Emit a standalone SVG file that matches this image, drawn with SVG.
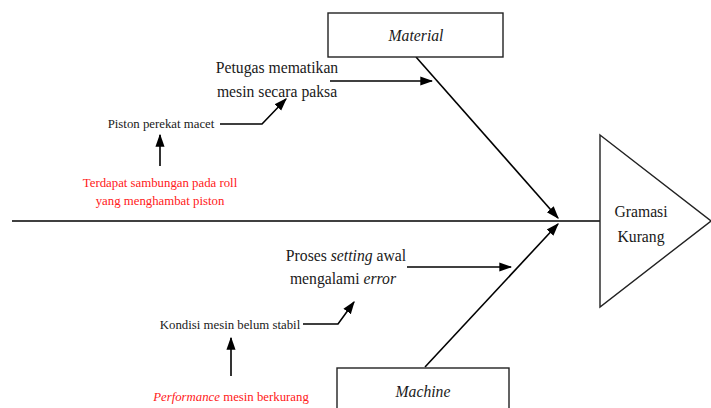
<svg xmlns="http://www.w3.org/2000/svg" width="711" height="408" viewBox="0 0 711 408">
<style>
.t{font-family:"Liberation Serif","Times New Roman",serif;fill:#1a1a1a}
.b{font-size:15.7px}
.s{font-size:12.8px}
.r{fill:#ff2020}
.ln{stroke:#000;stroke-width:1.6;fill:none}
.box{fill:#fff;stroke:#222;stroke-width:1.4}
</style>
<defs>
<marker id="ahL" viewBox="0 0 10 10" refX="9" refY="5" markerWidth="13" markerHeight="13" markerUnits="userSpaceOnUse" orient="auto">
<path d="M0,1.5 L10,5 L0,8.5 Z" fill="#000"/>
</marker>
</defs>
<g id="connectors">
<line class="ln" x1="12" y1="221" x2="600" y2="221"/>
<line class="ln" x1="416" y1="57" x2="558" y2="218" marker-end="url(#ahL)"/>
<line class="ln" x1="425" y1="367" x2="558" y2="224" marker-end="url(#ahL)"/>
<line class="ln" x1="330" y1="81" x2="432" y2="81" marker-end="url(#ahL)"/>
<line class="ln" x1="407" y1="267" x2="511" y2="267" marker-end="url(#ahL)"/>
<polyline class="ln" points="220,124 262,124 286,99" marker-end="url(#ahL)"/>
<polyline class="ln" points="303,324 338,324 354,302" marker-end="url(#ahL)"/>
<line class="ln" x1="160" y1="166" x2="160" y2="135" marker-end="url(#ahL)"/>
<line class="ln" x1="231" y1="376" x2="231" y2="338" marker-end="url(#ahL)"/>
</g>
<g id="material">
<rect class="box" x="328" y="13" width="175" height="44"/>
<text class="t b" x="416" y="41" text-anchor="middle" font-style="italic">Material</text>
</g>
<g id="machine">
<rect class="box" x="337" y="368" width="172" height="50"/>
<text class="t b" x="423" y="397" text-anchor="middle" font-style="italic">Machine</text>
</g>
<g id="effect">
<polygon class="box" points="600,135 711,221 600,307"/>
<text class="t b" x="641" y="217" text-anchor="middle">Gramasi</text>
<text class="t b" x="641" y="242" text-anchor="middle">Kurang</text>
</g>
<g id="petugas">
<text class="t b" x="277" y="73" text-anchor="middle">Petugas mematikan</text>
<text class="t b" x="277" y="97" text-anchor="middle">mesin secara paksa</text>
</g>
<g id="piston">
<text class="t s" x="161" y="128" text-anchor="middle">Piston perekat macet</text>
</g>
<g id="sambungan">
<text class="t s r" x="160" y="187" text-anchor="middle">Terdapat sambungan pada roll</text>
<text class="t s r" x="160" y="205" text-anchor="middle">yang menghambat piston</text>
</g>
<g id="proses">
<text class="t b" x="346" y="261" text-anchor="middle">Proses <tspan font-style="italic">setting</tspan> awal</text>
<text class="t b" x="343" y="284" text-anchor="middle">mengalami <tspan font-style="italic">error</tspan></text>
</g>
<g id="kondisi">
<text class="t s" x="230" y="329" text-anchor="middle">Kondisi mesin belum stabil</text>
</g>
<g id="performance">
<text class="t s r" x="231" y="401" text-anchor="middle"><tspan font-style="italic">Performance</tspan> mesin berkurang</text>
</g>
</svg>
